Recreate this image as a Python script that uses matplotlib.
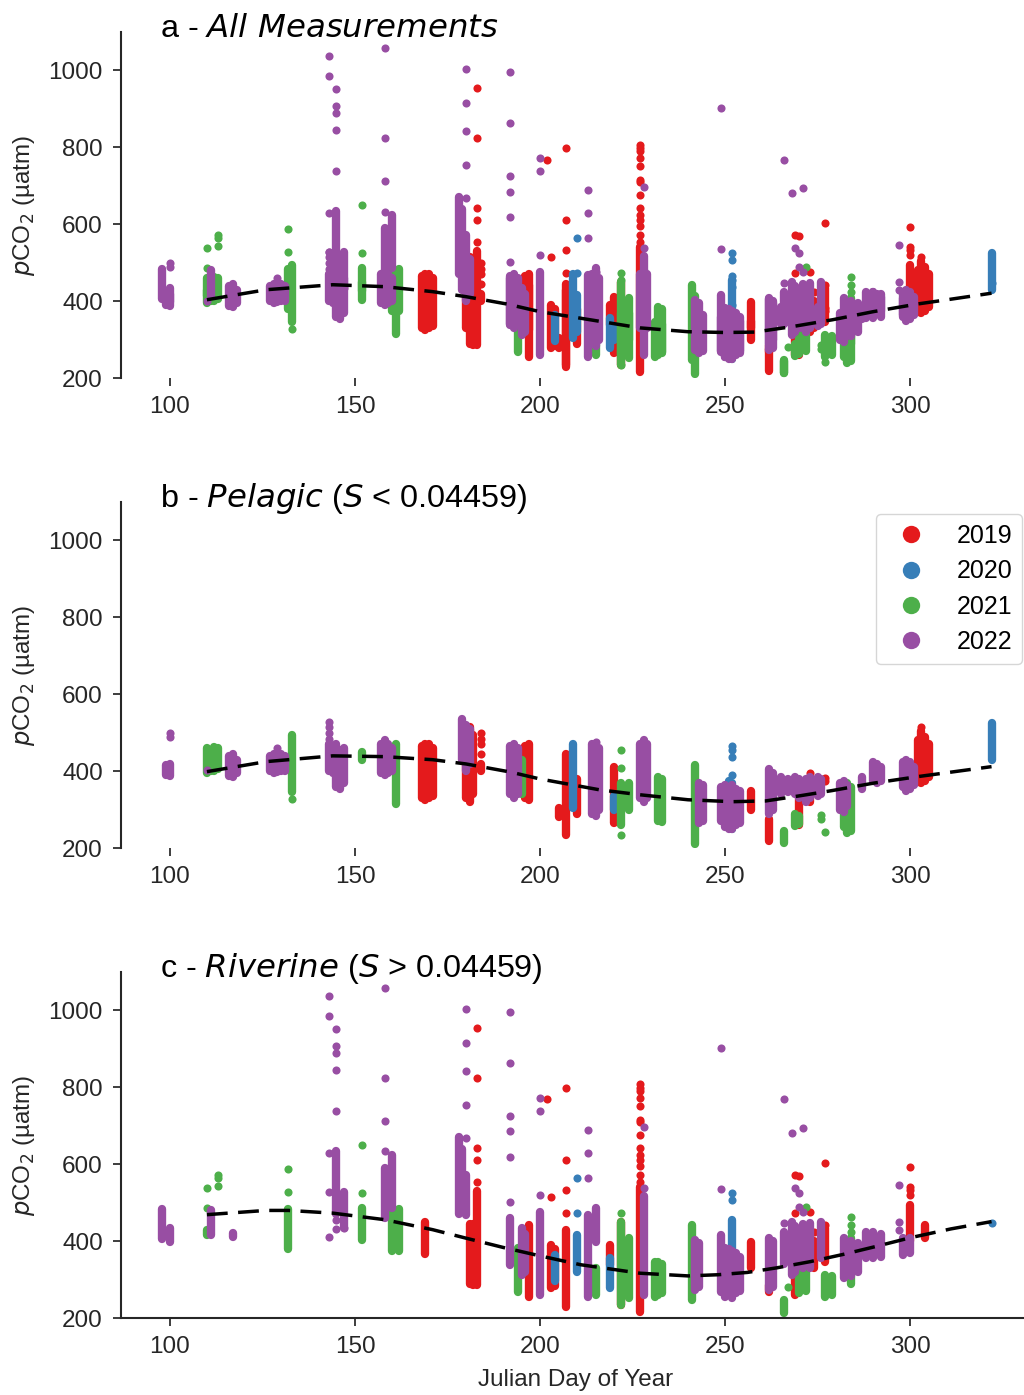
import matplotlib.pyplot as plt
from matplotlib.lines import Line2D

plt.rcParams['font.family'] = ['Liberation Sans', 'DejaVu Sans']

years = [2019, 2020, 2021, 2022]
year_colors = ['#e41a1c', '#377eb8', '#4daf4a', '#984ea3']

# dense runs of measurements: (day, year, low, high)
pel_ranges = [
    (99, 2022, 390, 415), (100, 2022, 388, 418),
    (116, 2022, 388, 440), (117, 2022, 385, 445), (118, 2022, 395, 430),
    (127, 2022, 400, 440), (128, 2022, 395, 445), (129, 2022, 398, 440), (130, 2022, 400, 445), (131, 2022, 400, 440),
    (143, 2022, 400, 470), (144, 2022, 395, 465), (145, 2022, 360, 470), (146, 2022, 355, 455), (147, 2022, 370, 460),
    (157, 2022, 395, 470), (158, 2022, 390, 480), (159, 2022, 395, 470), (160, 2022, 400, 460),
    (179, 2022, 430, 535), (180, 2022, 400, 520), (181, 2022, 420, 510),
    (192, 2022, 340, 465), (193, 2022, 330, 470), (194, 2022, 340, 460),
    (214, 2022, 290, 470), (215, 2022, 285, 465), (216, 2022, 300, 460),
    (227, 2022, 330, 470), (228, 2022, 320, 480), (229, 2022, 330, 470),
    (243, 2022, 265, 370), (244, 2022, 270, 365),
    (249, 2022, 270, 360), (250, 2022, 255, 365), (251, 2022, 250, 360), (252, 2022, 250, 365),
    (253, 2022, 260, 355), (254, 2022, 265, 350),
    (262, 2022, 290, 405), (263, 2022, 300, 395),
    (265, 2022, 340, 385), (267, 2022, 345, 380), (269, 2022, 340, 385), (270, 2022, 330, 380),
    (272, 2022, 320, 380), (273, 2022, 330, 385), (275, 2022, 335, 385), (276, 2022, 340, 380),
    (281, 2022, 300, 370), (282, 2022, 295, 375), (283, 2022, 310, 365),
    (287, 2022, 355, 385),
    (290, 2022, 375, 425), (291, 2022, 370, 420), (292, 2022, 375, 410),
    (298, 2022, 360, 425), (299, 2022, 350, 430), (300, 2022, 355, 425), (301, 2022, 365, 410),
    (110, 2021, 395, 460), (111, 2021, 400, 455), (112, 2021, 400, 462), (113, 2021, 405, 460),
    (133, 2021, 345, 495), (152, 2021, 428, 450), (161, 2021, 315, 470),
    (194, 2021, 350, 440), (195, 2021, 340, 430),
    (222, 2021, 260, 370), (224, 2021, 300, 370),
    (232, 2021, 270, 385), (233, 2021, 268, 380),
    (242, 2021, 210, 415), (266, 2021, 215, 245),
    (269, 2021, 258, 290), (270, 2021, 262, 285),
    (282, 2021, 255, 350), (283, 2021, 240, 370), (284, 2021, 245, 360),
    (168, 2019, 330, 465), (169, 2019, 325, 470), (170, 2019, 330, 470), (171, 2019, 335, 460),
    (180, 2019, 330, 500), (181, 2019, 320, 515), (182, 2019, 340, 495),
    (184, 2019, 400, 420),
    (196, 2019, 330, 465), (197, 2019, 325, 470),
    (205, 2019, 280, 305), (207, 2019, 235, 445), (210, 2019, 290, 380),
    (220, 2019, 265, 410), (257, 2019, 300, 350), (262, 2019, 220, 275),
    (270, 2019, 260, 370), (273, 2019, 320, 350),
    (302, 2019, 380, 480), (303, 2019, 370, 505), (304, 2019, 375, 490), (305, 2019, 385, 470),
    (209, 2020, 305, 470), (220, 2020, 300, 335),
    (251, 2020, 260, 375), (252, 2020, 250, 370),
    (322, 2020, 430, 525),
]

# single measurements: (day, year, value)
pel_points = [
    (100, 2022, 490), (100, 2022, 499), (110, 2022, 402), (129, 2022, 460),
    (143, 2022, 529), (143, 2022, 515), (143, 2022, 500), (143, 2022, 485),
    (215, 2022, 477),
    (133, 2021, 328), (222, 2021, 455), (222, 2021, 408), (222, 2021, 235),
    (277, 2021, 243), (276, 2021, 286), (276, 2021, 275),
    (184, 2019, 500), (184, 2019, 485), (184, 2019, 470), (184, 2019, 445),
    (273, 2019, 395), (277, 2019, 375), (277, 2019, 382), (303, 2019, 515),
    (252, 2020, 465), (252, 2020, 455), (252, 2020, 437), (252, 2020, 390),
]

riv_ranges = [
    (98, 2022, 405, 485), (100, 2022, 398, 435), (111, 2022, 415, 480), (117, 2022, 412, 421),
    (145, 2022, 470, 635), (147, 2022, 434, 529),
    (158, 2022, 460, 590), (160, 2022, 486, 625),
    (178, 2022, 470, 670), (179, 2022, 480, 640), (180, 2022, 469, 573),
    (192, 2022, 338, 460), (195, 2022, 313, 434), (196, 2022, 320, 420),
    (200, 2022, 261, 477), (213, 2022, 256, 469), (215, 2022, 399, 486),
    (228, 2022, 261, 518), (242, 2022, 273, 403), (243, 2022, 280, 395),
    (249, 2022, 269, 417), (250, 2022, 255, 382), (251, 2022, 260, 380), (252, 2022, 252, 375),
    (253, 2022, 265, 370), (254, 2022, 270, 360),
    (262, 2022, 273, 408), (263, 2022, 280, 400),
    (266, 2022, 340, 425), (268, 2022, 313, 451), (269, 2022, 320, 440), (271, 2022, 330, 445),
    (273, 2022, 330, 447), (276, 2022, 356, 451),
    (282, 2022, 304, 408), (284, 2022, 310, 400), (286, 2022, 320, 395),
    (288, 2022, 356, 425), (290, 2022, 356, 425), (292, 2022, 360, 420),
    (298, 2022, 365, 408), (300, 2022, 370, 408),
    (110, 2021, 415, 430), (132, 2021, 380, 485), (152, 2021, 404, 486),
    (160, 2021, 375, 490), (162, 2021, 375, 485),
    (194, 2021, 269, 382), (215, 2021, 261, 330), (222, 2021, 235, 451), (224, 2021, 252, 408),
    (231, 2021, 256, 347), (232, 2021, 260, 345), (233, 2021, 265, 340),
    (241, 2021, 248, 443), (266, 2021, 213, 248),
    (270, 2021, 265, 347), (272, 2021, 270, 340),
    (277, 2021, 256, 313), (279, 2021, 260, 310), (284, 2021, 290, 408),
    (169, 2019, 368, 450), (181, 2019, 290, 445), (182, 2019, 287, 445), (183, 2019, 287, 530),
    (197, 2019, 256, 443), (203, 2019, 278, 391), (204, 2019, 285, 380),
    (207, 2019, 230, 430), (219, 2019, 339, 391), (222, 2019, 235, 451),
    (227, 2019, 217, 540), (257, 2019, 330, 399), (262, 2019, 269, 287),
    (269, 2019, 261, 421), (270, 2019, 270, 410), (274, 2019, 330, 400),
    (277, 2019, 347, 434), (300, 2019, 400, 495), (304, 2019, 408, 443),
    (204, 2020, 296, 365), (210, 2020, 321, 417), (219, 2020, 278, 356), (252, 2020, 339, 456),
]

riv_points = [
    (143, 2022, 1036), (143, 2022, 984), (143, 2022, 629), (143, 2022, 529), (143, 2022, 412),
    (145, 2022, 950), (145, 2022, 906), (145, 2022, 889), (145, 2022, 844), (145, 2022, 739),
    (145, 2022, 455), (145, 2022, 432), (147, 2022, 434),
    (158, 2022, 1058), (158, 2022, 824), (158, 2022, 711), (158, 2022, 633),
    (180, 2022, 1002), (180, 2022, 915), (180, 2022, 841), (180, 2022, 755), (180, 2022, 668),
    (178, 2022, 668),
    (192, 2022, 994), (192, 2022, 863), (192, 2022, 724), (192, 2022, 685), (192, 2022, 620),
    (192, 2022, 503),
    (200, 2022, 772), (200, 2022, 737), (200, 2022, 521),
    (213, 2022, 690), (213, 2022, 629), (213, 2022, 564),
    (228, 2022, 697), (228, 2022, 538),
    (249, 2022, 902), (249, 2022, 536),
    (266, 2022, 768), (266, 2022, 447), (268, 2022, 681), (271, 2022, 694),
    (269, 2022, 538), (270, 2022, 525), (270, 2022, 490), (271, 2022, 477),
    (297, 2022, 547), (297, 2022, 451), (297, 2022, 429),
    (110, 2021, 538), (110, 2021, 486), (113, 2021, 573), (113, 2021, 564), (113, 2021, 544),
    (132, 2021, 588), (132, 2021, 529), (152, 2021, 651), (152, 2021, 525),
    (222, 2021, 473), (267, 2021, 282), (272, 2021, 490),
    (284, 2021, 464), (284, 2021, 443), (284, 2021, 425),
    (183, 2019, 954), (183, 2019, 824), (183, 2019, 642), (183, 2019, 612), (183, 2019, 555),
    (202, 2019, 768), (203, 2019, 515),
    (207, 2019, 798), (207, 2019, 612), (207, 2019, 534), (207, 2019, 473),
    (227, 2019, 807), (227, 2019, 798), (227, 2019, 790), (227, 2019, 772), (227, 2019, 750),
    (227, 2019, 715), (227, 2019, 710), (227, 2019, 677), (227, 2019, 642), (227, 2019, 625),
    (227, 2019, 612), (227, 2019, 595), (227, 2019, 573), (227, 2019, 555),
    (269, 2019, 573), (270, 2019, 570), (269, 2019, 473), (270, 2019, 434),
    (273, 2019, 477), (274, 2019, 425), (277, 2019, 603), (277, 2019, 443),
    (300, 2019, 594), (300, 2019, 540), (300, 2019, 534), (300, 2019, 520),
    (210, 2020, 564), (210, 2020, 473), (252, 2020, 525), (252, 2020, 508), (322, 2020, 447),
]

# fitted seasonal curves
fit_a_day = [110, 126, 144, 158, 171, 180, 191, 200, 211, 227, 240, 250, 258, 268, 279, 290, 302, 310, 322]
fit_a_val = [404, 430, 443, 438, 425, 412, 393, 373, 356, 331, 321, 319, 320, 334, 352, 373, 393, 404, 421]
fit_b_day = [110, 126, 144, 158, 171, 180, 192, 200, 216, 227, 240, 252, 261, 270, 279, 290, 302, 322]
fit_b_val = [399, 425, 440, 438, 430, 419, 398, 380, 352, 339, 326, 321, 323, 336, 350, 369, 386, 412]
fit_c_day = [110, 126, 132, 144, 158, 171, 180, 190, 200, 211, 227, 240, 248, 256, 264, 273, 282, 291, 300, 311, 322]
fit_c_val = [469, 480, 480, 473, 456, 430, 408, 384, 362, 339, 317, 310, 313, 319, 331, 347, 366, 387, 409, 432, 451]

titles = [r"a - $\it{All\ Measurements}$",
          r"b - $\it{Pelagic}$ ($\it{S}$ < 0.04459)",
          r"c - $\it{Riverine}$ ($\it{S}$ > 0.04459)"]

W, H = 1024, 1395
fig = plt.figure(figsize=(W / 100, H / 100), dpi=100)
bottoms = [0.7288, 0.3919, 0.0550]
axes = [fig.add_axes([0.1182, b, 0.8877, 0.2485]) for b in bottoms]

panel_data = [(pel_ranges + riv_ranges, pel_points + riv_points, fit_a_day, fit_a_val),
              (pel_ranges, pel_points, fit_b_day, fit_b_val),
              (riv_ranges, riv_points, fit_c_day, fit_c_val)]

for i, (ax, (rng, pts, fd, fv)) in enumerate(zip(axes, panel_data)):
    for yr, col in zip(years, year_colors):
        r = [t for t in rng if t[1] == yr]
        ax.vlines([t[0] for t in r], [t[2] for t in r], [t[3] for t in r],
                  colors=col, linewidth=6, capstyle='round', zorder=2)
        p = [t for t in pts if t[1] == yr]
        ax.scatter([t[0] for t in p], [t[2] for t in p], s=34, color=col,
                   linewidths=0, zorder=2)
    ax.plot(fd, fv, color='black', linestyle=(0, (6, 3)), linewidth=2.5, zorder=3)

    ax.set_xlim(86.8, 332.4)
    ax.set_ylim(200, 1100)
    ax.set_xticks([100, 150, 200, 250, 300])
    ax.set_yticks([200, 400, 600, 800, 1000])
    for s in ['top', 'right']:
        ax.spines[s].set_visible(False)
    if i < 2:
        ax.spines['bottom'].set_visible(False)
    for s in ['left', 'bottom']:
        ax.spines[s].set_color('.15')
        ax.spines[s].set_linewidth(1.5)
    ax.tick_params(direction='out', length=6, width=1.25, color='.15',
                   labelcolor='.15', labelsize=17.5, pad=7)
    ax.set_ylabel(r"$p$CO$_2$ (µatm)", fontsize=17.5, color='.15', labelpad=8)
    ax.text(0.043, 0.985, titles[i], transform=ax.transAxes, fontsize=23.3,
            ha='left', va='baseline', color='black')

axes[2].set_xlabel("Julian Day of Year", fontsize=17.5, color='.15', labelpad=8)

handles = [Line2D([], [], marker='o', linestyle='none', markersize=12.5,
                  markerfacecolor=c, markeredgewidth=0) for c in year_colors]
fig.legend(handles, [str(y) for y in years], loc='upper right',
           bbox_to_anchor=(1022 / W, 1 - 514 / H), bbox_transform=fig.transFigure,
           borderaxespad=0, fontsize=18, labelspacing=0.45, handletextpad=0.8,
           borderpad=0.4, frameon=True, edgecolor='.8', fancybox=True)

fig.savefig("out.png", dpi=100)
